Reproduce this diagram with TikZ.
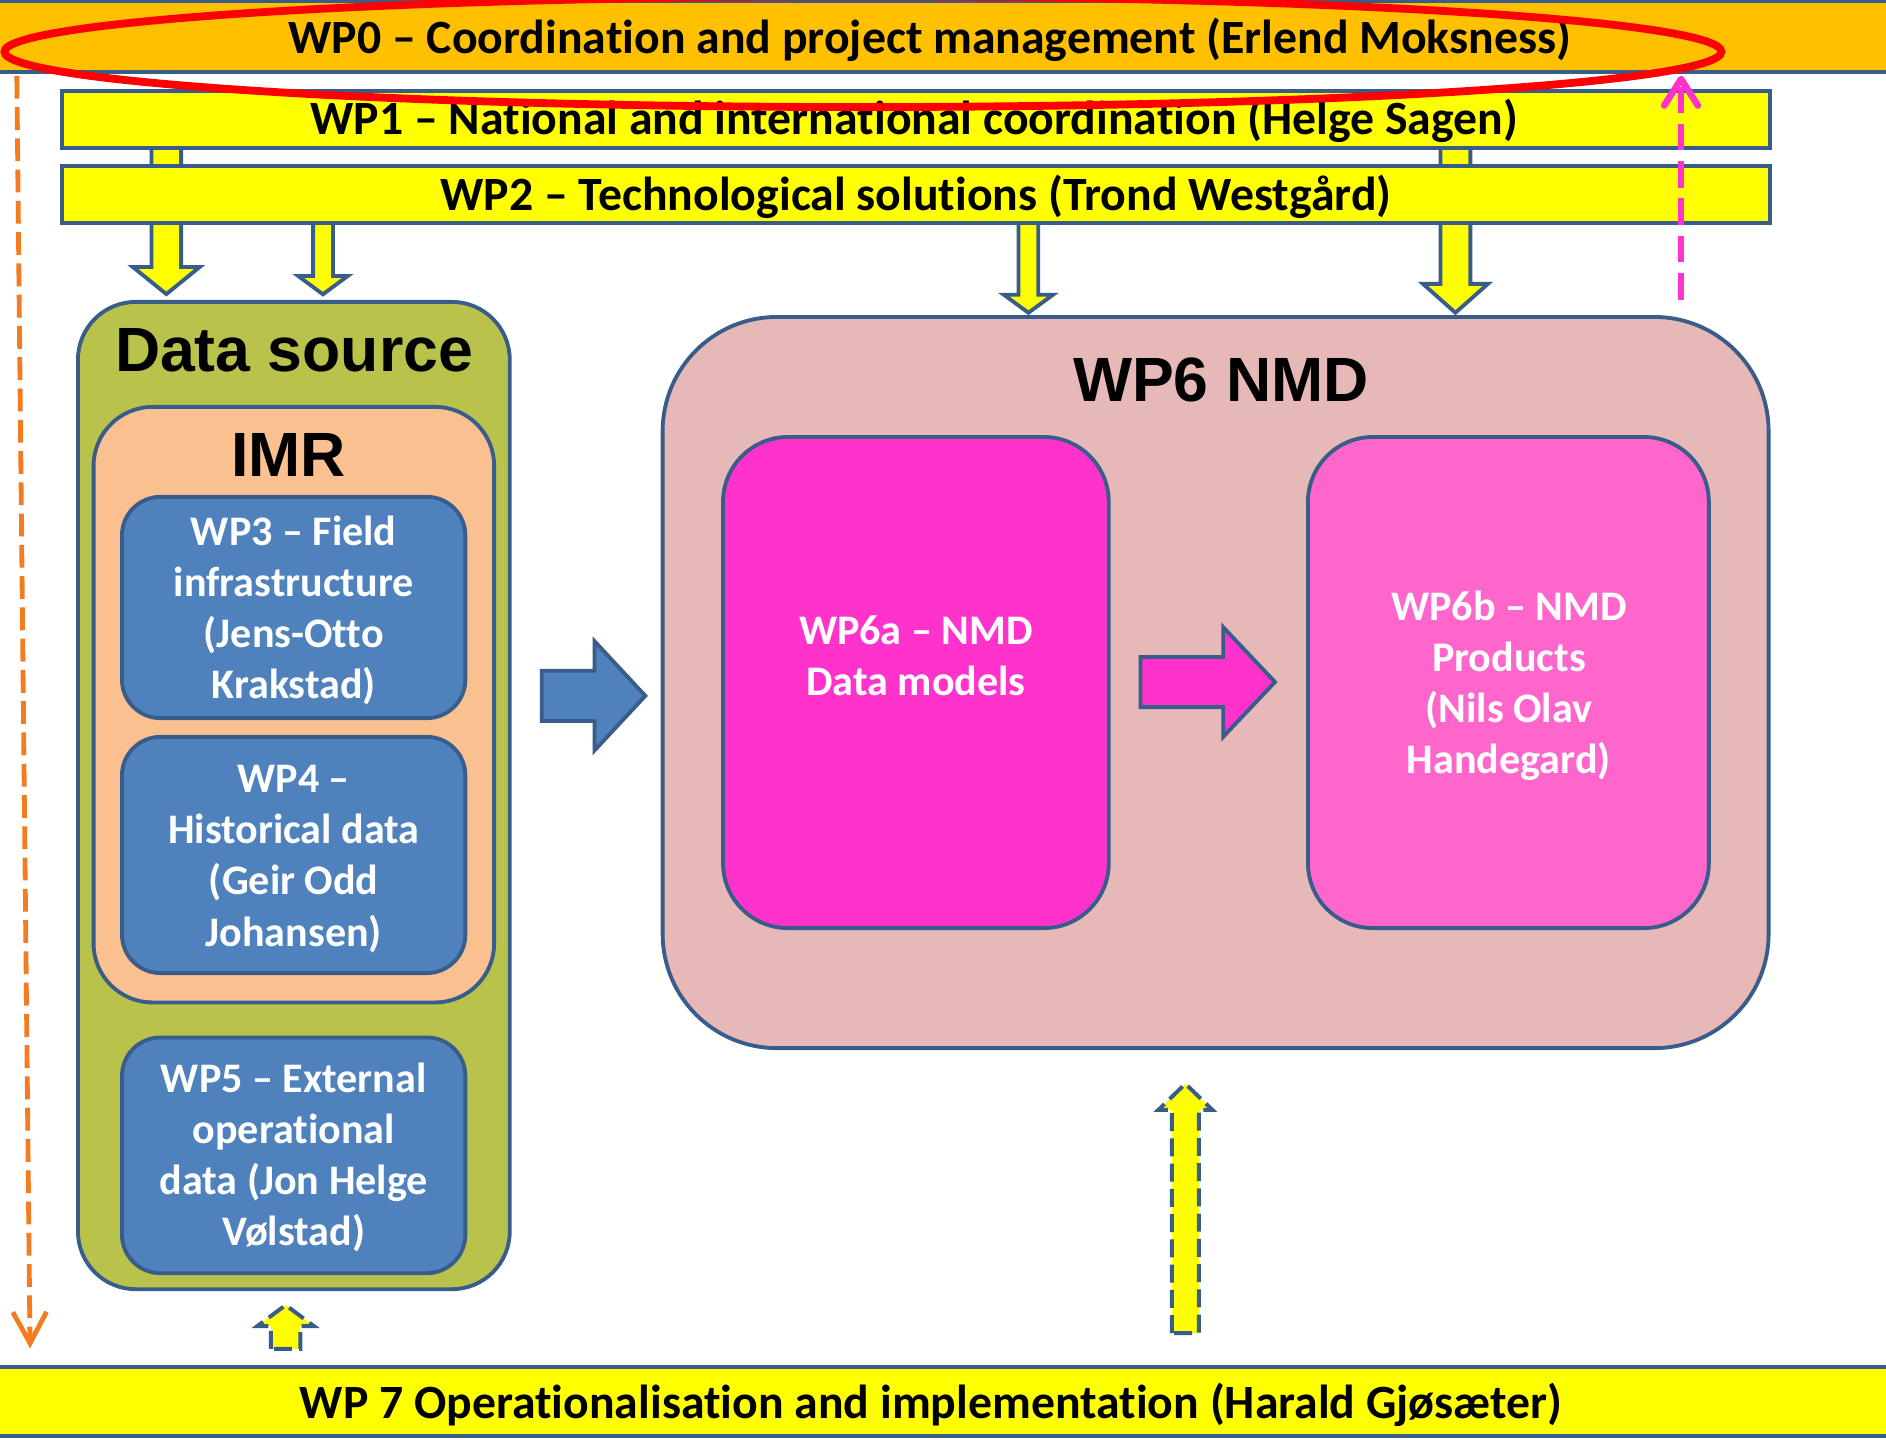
\documentclass[tikz,border=0pt]{standalone}
\usepackage{fontspec}
\setmainfont{Carlito}[Ligatures=NoCommon]
\newfontfamily\arialf{Liberation Sans}
\usetikzlibrary{arrows.meta}
\definecolor{bordc}{HTML}{385D8A}
\definecolor{wporange}{HTML}{FFC000}
\definecolor{wpyellow}{HTML}{FFFF00}
\definecolor{dsgreen}{HTML}{B9C24B}
\definecolor{imrpeach}{HTML}{FAC090}
\definecolor{wpblue}{HTML}{4F81BD}
\definecolor{nmdrose}{HTML}{E6B9B8}
\definecolor{nmdpinka}{HTML}{FF33CC}
\definecolor{nmdpinkb}{HTML}{FF66CC}
\definecolor{arrorange}{HTML}{F47B20}
\begin{document}
\begin{tikzpicture}[x=1pt,y=-1pt,
 bordline/.style={draw=bordc, line width=3.2pt},
 bar/.style={bordline, rectangle, inner sep=0pt, outer sep=0pt},
 rbox/.style={bordline, rectangle, inner sep=0pt, outer sep=0pt},
 bartext/.style={font=\bfseries\fontsize{39.7}{47}\selectfont, anchor=base, inner sep=0pt},
 titletext/.style={font=\arialf\bfseries\fontsize{52}{60}\selectfont, anchor=base, inner sep=0pt},
 boxtext/.style={font=\bfseries\fontsize{35}{42.5}\selectfont, text=white, align=center, anchor=base, inner sep=0pt},
 fatarrow/.style={bordline, fill=wpyellow, line join=miter},
 dashfat/.style={draw=bordc, line width=3.3pt, dash pattern=on 15pt off 6pt, fill=wpyellow},
 orangearr/.style={draw=arrorange, line width=4pt, dash pattern=on 19pt off 7pt, -{Straight Barb[length=26pt,width=28pt]}},
 pinkarr/.style={draw=nmdpinka, line width=5.5pt, dash pattern=on 22pt off 9pt, -{Straight Barb[length=22pt,width=28pt,round]}},
]
\useasboundingbox (0,0) rectangle (1568,1197);
\clip (0,0) rectangle (1568,1197);
\fill[white] (0,0) rectangle (1568,1197);

% top bar
\node[bar, fill=wporange, minimum width=1600pt, minimum height=59pt] (wp0) at (784,30.5) {};

% arrows from WP1 (behind WP1/WP2)
\draw[fatarrow] (126,118) -- (126,222) -- (110.5,222) -- (138.3,244.5) -- (166,222) -- (150.6,222) -- (150.6,118) -- cycle;
\draw[fatarrow] (1197.6,118) -- (1197.6,236) -- (1183,236) -- (1210,260) -- (1237,236) -- (1222.4,236) -- (1222.4,118) -- cycle;
% arrows from WP2
\draw[fatarrow] (260.3,180) -- (260.3,229.5) -- (248,229.5) -- (268.5,244.7) -- (289,229.5) -- (276.8,229.5) -- (276.8,180) -- cycle;
\draw[fatarrow] (846.8,180) -- (846.8,245) -- (834.5,245) -- (855,260) -- (875.5,245) -- (863.2,245) -- (863.2,180) -- cycle;

\node[bar, fill=wpyellow, minimum width=1420pt, minimum height=47.2pt] (wp1) at (761.5,99.5) {};
\node[bar, fill=wpyellow, minimum width=1420pt, minimum height=47.5pt] (wp2) at (761.5,161.65) {};

% data source column
\node[rbox, fill=dsgreen, rounded corners=48pt, minimum width=359pt, minimum height=820.8pt] (ds) at (244.3,661.4) {};
\node[rbox, fill=imrpeach, rounded corners=49pt, minimum width=333pt, minimum height=495.1pt] (imr) at (244.3,585.85) {};
\node[rbox, fill=wpblue, rounded corners=32pt, minimum width=285.5pt, minimum height=184pt] (wp3) at (244.15,505.05) {};
\node[rbox, fill=wpblue, rounded corners=32pt, minimum width=285.5pt, minimum height=196.4pt] (wp4) at (244.15,710.8) {};
\node[rbox, fill=wpblue, rounded corners=32pt, minimum width=285.5pt, minimum height=196pt] (wp5) at (244.15,960.5) {};

% NMD
\node[rbox, fill=nmdrose, rounded corners=95pt, minimum width=919.5pt, minimum height=607.9pt] (wp6) at (1010.65,567.45) {};
\node[rbox, fill=nmdpinka, rounded corners=54pt, minimum width=320.7pt, minimum height=408.3pt] (wp6a) at (761.45,567.45) {};
\node[rbox, fill=nmdpinkb, rounded corners=54pt, minimum width=333.3pt, minimum height=408.3pt] (wp6b) at (1254.05,567.45) {};

% block arrows
\draw[bordline, fill=wpblue, line join=miter] (450.4,557.6) -- (494.2,557.6) -- (494.2,533) -- (536.5,578.5) -- (494.2,624) -- (494.2,599.4) -- (450.4,599.4) -- cycle;
\draw[bordline, fill=nmdpinka, line join=miter] (948.2,546.2) -- (1017,546.2) -- (1017,521.5) -- (1060,567) -- (1017,612.5) -- (1017,587.9) -- (948.2,587.9) -- cycle;

% dashed up arrows from WP7
\draw[dashfat] (974.3,1108.4) -- (974.3,922.8) -- (963,922.8) -- (985.5,901) -- (1008,922.8) -- (996.7,922.8) -- (996.7,1108.4) -- cycle;
\draw[dashfat] (225.2,1121.4) -- (225.2,1102.5) -- (214,1102.5) -- (237.5,1085) -- (261,1102.5) -- (249.8,1102.5) -- (249.8,1121.4) -- cycle;

% bottom bar
\node[bar, fill=wpyellow, minimum width=1600pt, minimum height=57.4pt] (wp7) at (784,1165.3) {};

% texts (multi-line nodes: base = last line's baseline)
\node[bartext] (wp0t) at (773,44.3) {WP0 – Coordination and project management (Erlend Moksness)};
\node[bartext] (wp1t) at (760,112.2) {WP1 – National and international coordination (Helge Sagen)};
\node[bartext] (wp2t) at (761.5,174.6) {WP2 – Technological solutions (Trond Westgård)};
\node[bartext] (wp7t) at (774,1179.2) {WP 7 Operationalisation and implementation (Harald Gjøsæter)};
\node[titletext] (dst) at (244.5,309) {Data source};
\node[titletext] (imrt) at (240,396.3) {IMR};
\node[titletext] (wp6t) at (1015,334) {WP6 NMD};
\node[boxtext] (wp3t) at (244.2,580.6) {WP3 – Field\\infrastructure\\(Jens-Otto\\Krakstad)};
\node[boxtext] (wp4t) at (244.2,786.5) {WP4 –\\Historical data\\(Geir Odd\\Johansen)};
\node[boxtext] (wp5t) at (244.2,1035.5) {WP5 – External\\operational\\data (Jon Helge\\Vølstad)};
\node[boxtext] (wp6at) at (761.5,578.5) {WP6a – NMD\\Data models};
\node[boxtext] (wp6bt) at (1254.5,643) {WP6b – NMD\\Products\\(Nils Olav\\Handegard)};

% thin dashed arrows
\coordinate (orTop) at (14,63);
\coordinate (orTip) at (25,1121);
\draw[orangearr] (orTop) -- (orTip);
\coordinate (pkStart) at (1397.6,249);
\coordinate (pkTip) at (1397.6,63);
\draw[pinkarr] (pkStart) -- (pkTip);

% red ellipse highlight
\draw[red, line width=6.5pt] (717.4,43) ellipse [x radius=713.7pt, y radius=46pt];
\end{tikzpicture}
\end{document}
